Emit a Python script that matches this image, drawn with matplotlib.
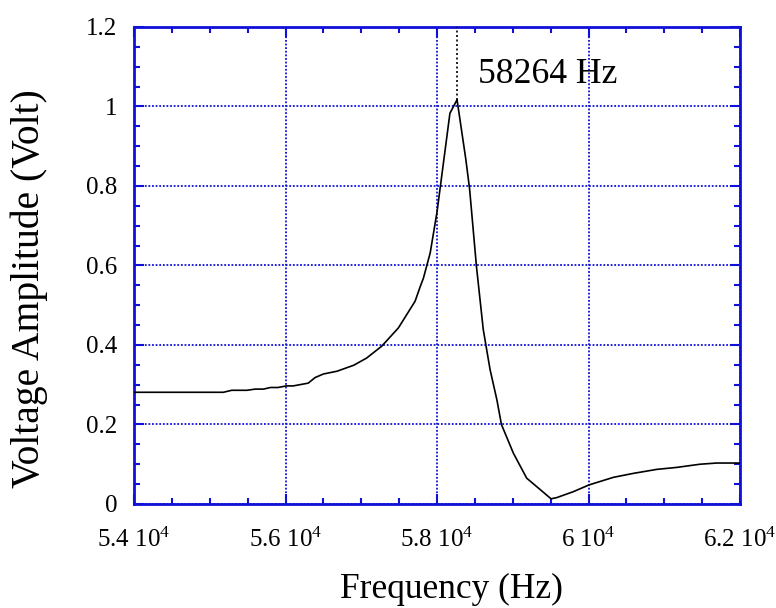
import numpy as np
import matplotlib
matplotlib.use('Agg')
import matplotlib.pyplot as plt
from matplotlib.ticker import MultipleLocator

import matplotlib as mpl
mpl.rcParams['font.family'] = ['Liberation Serif', 'DejaVu Serif']
mpl.rcParams['mathtext.fontset'] = 'custom'
mpl.rcParams['mathtext.rm'] = 'Liberation Serif'
mpl.rcParams['mathtext.it'] = 'Liberation Serif:italic'

# Frequency response
freq = [54000, 55180, 55290, 55490, 55600, 55710, 55800, 55900, 56010, 56100,
        56300, 56390, 56500, 56680, 56900, 57070, 57270, 57490, 57710, 57780,
        57820, 57910, 58000, 58170, 58264, 58380, 58430, 58520, 58610, 58700,
        58790, 58850, 59007, 59183, 59505, 59580, 59800, 60007, 60328, 60592,
        60900, 61164, 61472, 61692, 62000]
volt = [0.281, 0.281, 0.286, 0.286, 0.289, 0.289, 0.293, 0.293, 0.297, 0.297,
        0.304, 0.318, 0.327, 0.334, 0.349, 0.367, 0.397, 0.443, 0.510, 0.548,
        0.568, 0.632, 0.735, 0.983, 1.017, 0.867, 0.792, 0.598, 0.439, 0.338,
        0.262, 0.200, 0.128, 0.065, 0.013, 0.016, 0.031, 0.048, 0.067, 0.077,
        0.087, 0.092, 0.100, 0.103, 0.103]

peak_freq = 58264
peak_volt = 1.017

xticks = [54000, 56000, 58000, 60000, 62000]
xtick_labels = ['5.4 10$^{4}$', '5.6 10$^{4}$', '5.8 10$^{4}$', '6 10$^{4}$', '6.2 10$^{4}$']
yticks = [0, 0.2, 0.4, 0.6, 0.8, 1.0, 1.2]
ytick_labels = ['0', '0.2', '0.4', '0.6', '0.8', '1', '1.2']

blue = '#1010d8'

fig = plt.figure(figsize=(7.76, 6.08), dpi=100)
ax = fig.add_axes([0.1727, 0.1711, 0.781, 0.7845])

ax.plot(freq, volt, color='k', lw=1.2, zorder=5)

# dotted marker of the resonance peak
ax.plot([peak_freq, peak_freq], [peak_volt, 1.2], color='k', lw=1.2, ls=(0, (1.2, 1.5)), zorder=5)
ax.text(58540, 1.081, '%d Hz' % peak_freq, fontsize=25.7, va='center', ha='left')

ax.set_xlim(54000, 62000)
ax.set_ylim(0, 1.2)
ax.set_xticks(xticks)
ax.set_xticklabels(xtick_labels)
ax.set_yticks(yticks)
ax.set_yticklabels(ytick_labels)
ax.xaxis.set_minor_locator(MultipleLocator(500))
ax.yaxis.set_minor_locator(MultipleLocator(0.05))

ax.tick_params(which='both', direction='in', top=True, right=True, color=blue, labelsize=18)
ax.tick_params(which='major', length=7, width=1.5)
ax.tick_params(which='minor', length=4, width=1.5)
ax.tick_params(axis='x', pad=17)
ax.tick_params(axis='y', pad=12)

for s in ax.spines.values():
    s.set_color(blue)
    s.set_linewidth(2)

ax.grid(which='major', color=blue, ls=(0, (1, 1)), lw=1.3)

ax.set_xlabel('Frequency (Hz)', fontsize=25.5, va='center')
ax.xaxis.set_label_coords(0.523, -0.180)
ax.set_ylabel('Voltage Amplitude (Volt)', fontsize=28.5, va='center')
ax.yaxis.set_label_coords(-0.173, 0.451)

plt.savefig('out.png', dpi=100)
